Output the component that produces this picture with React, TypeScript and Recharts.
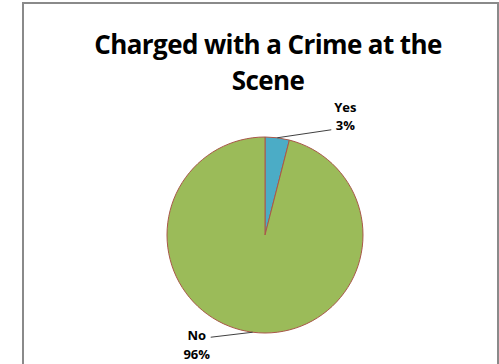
import { Pie, PieChart, Cell } from "recharts";

const categories = ["Yes", "No"];
const shares = [4, 96];
const shareLabels = ["3%", "96%"];
const colors = ["#4BACC6", "#9BBB59"];

const data = categories.map((name, i) => ({ name, value: shares[i], label: shareLabels[i] }));

const FONT = "'Open Sans', 'Liberation Sans', sans-serif";

// leader line: from slice edge to (dx, dy); text block anchored relative to that end
const labelOffsets = [
  { dx: 54, dy: -8, tx: 14, ty: 0 },
  { dx: -42, dy: 5, tx: -14, ty: 3 },
];

function renderLabel(props: any) {
  const { cx, cy, midAngle, outerRadius, index, payload } = props;
  const rad = Math.PI / 180;
  const sx = cx + outerRadius * Math.cos(-midAngle * rad);
  const sy = cy + outerRadius * Math.sin(-midAngle * rad);
  const off = labelOffsets[index];
  const ex = sx + off.dx;
  const ey = sy + off.dy;
  const tx = ex + off.tx;
  const ty = ey + off.ty;
  return (
    <g>
      <path d={`M${sx},${sy}L${ex},${ey}`} stroke="#404040" strokeWidth={1} fill="none" />
      <text textAnchor="middle" fill="#000" fontFamily={FONT} fontWeight={700} fontSize={13}>
        <tspan x={tx} y={index === 0 ? ty - 18 : ty}>{payload.name}</tspan>
        <tspan x={tx} y={index === 0 ? ty : ty + 19}>{payload.label}</tspan>
      </text>
    </g>
  );
}

export default function App() {
  return (
    <div
      style={{
        position: "absolute",
        left: 0,
        top: 0,
        width: 499,
        height: 364,
        overflow: "hidden",
        background: "#fff",
      }}
    >
      <div
        style={{
          position: "absolute",
          left: 22,
          top: 2,
          width: 473,
          height: 400,
          border: "2px solid #8a8a8a",
        }}
      />
      <div
        style={{
          position: "absolute",
          left: 38,
          top: 26,
          width: 460,
          textAlign: "center",
          fontFamily: FONT,
          fontWeight: 700,
          fontSize: 26,
          lineHeight: "36px",
          color: "#000",
          letterSpacing: -0.6,
          whiteSpace: "nowrap",
        }}
      >
        Charged with a Crime at the
        <br />
        Scene
      </div>
      <div style={{ position: "absolute", left: 0, top: 0, width: 499, height: 364 }}>
        <PieChart width={499} height={364}>
          <Pie
            data={data}
            dataKey="value"
            nameKey="name"
            cx={260}
            cy={230}
            outerRadius={98}
            startAngle={90}
            endAngle={-270}
            stroke="#a9584a"
            strokeWidth={1}
            label={renderLabel}
            labelLine={false}
            isAnimationActive={false}
          >
            {data.map((d, i) => (
              <Cell key={d.name} fill={colors[i]} />
            ))}
          </Pie>
        </PieChart>
      </div>
    </div>
  );
}
